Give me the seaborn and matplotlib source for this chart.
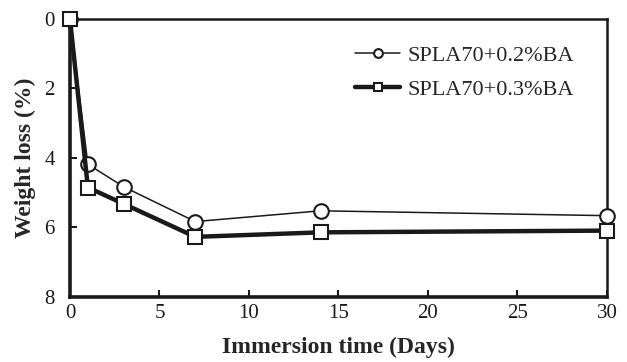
import pandas as pd
import matplotlib.pyplot as plt
import seaborn as sns

days = [0, 1, 3, 7, 14, 30]
loss_02 = [0, 4.18, 4.83, 5.83, 5.52, 5.66]
loss_03 = [0, 4.85, 5.32, 6.27, 6.14, 6.09]
labels = ['SPLA70+0.2%BA', 'SPLA70+0.3%BA']

df = pd.DataFrame({
    'Days': days * 2,
    'Loss': loss_02 + loss_03,
    'Sample': [labels[0]] * len(days) + [labels[1]] * len(days),
})

sns.set_style('ticks')
plt.rcParams['font.family'] = ['Liberation Serif', 'DejaVu Serif']

fig = plt.figure(figsize=(6.27, 3.62), dpi=100)
ax = fig.add_axes([0.1116, 0.1796, 0.8565, 0.768])

ax = sns.lineplot(
    data=df, x='Days', y='Loss', hue='Sample', style='Sample',
    markers=['o', 's'], dashes=False, palette=['#1a1a1a', '#1a1a1a'],
    size='Sample', sizes=[1.1, 3.2], ax=ax, legend=False,
    markerfacecolor='white', markeredgecolor='#1a1a1a', markeredgewidth=1.5,
    markersize=10.5, clip_on=False, zorder=3,
)

ax.set_xlim(0, 30)
ax.set_ylim(8, 0)
ax.set_xticks([0, 5, 10, 15, 20, 25, 30])
ax.set_yticks([0, 2, 4, 6, 8])
ax.tick_params(direction='in', length=5, width=1.5, labelsize=15,
               colors='#1a1a1a')
ax.tick_params(axis='x', pad=5)
ax.tick_params(axis='y', pad=11)
for side, s in ax.spines.items():
    s.set_visible(True)
    s.set_color('#1a1a1a')
    s.set_linewidth(2.6 if side in ('left', 'bottom') else 1.8)

ax.set_xlabel('Immersion time (Days)', fontsize=17, fontweight='bold', labelpad=10)
ax.set_ylabel('Weight loss (%)', fontsize=17, fontweight='bold', labelpad=6)

h = ax.get_lines()[:2]
leg = fig.legend(h, labels, loc='center left', frameon=False, fontsize=16,
                 handlelength=2.05, handletextpad=0.3, labelspacing=0.62,
                 borderpad=0, borderaxespad=0,
                 bbox_to_anchor=(0.566, 0.80), markerscale=0.6)

fig.savefig('out.png', dpi=100)
